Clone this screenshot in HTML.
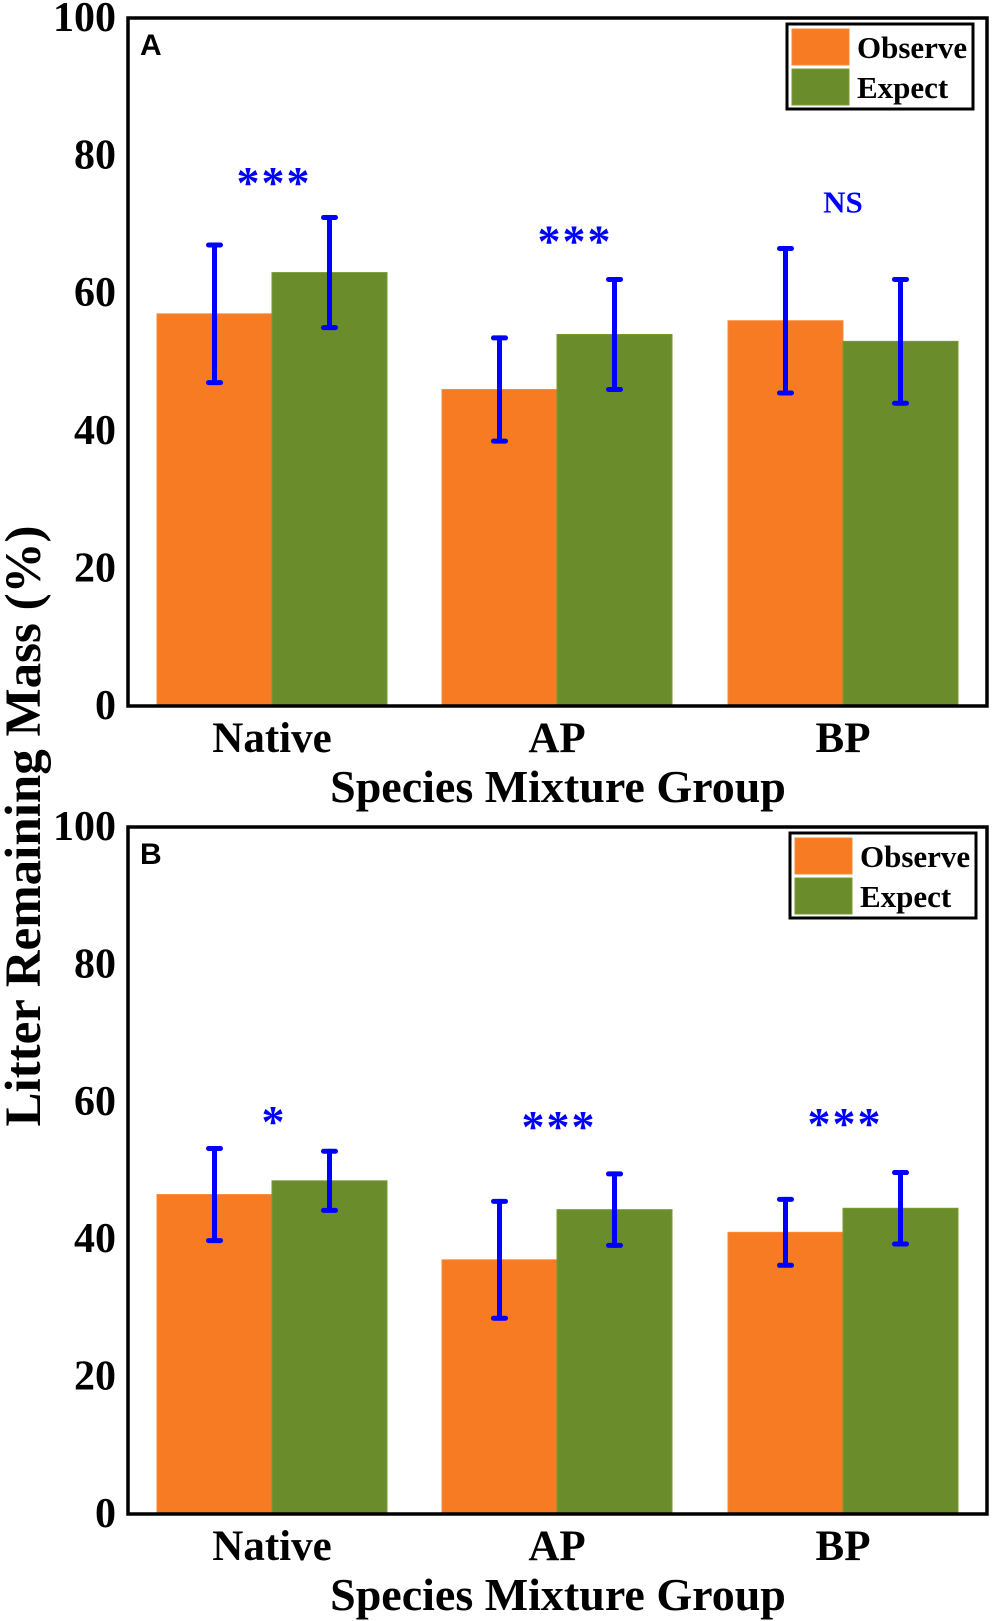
<!DOCTYPE html>
<html><head><meta charset="utf-8"><style>
html,body{margin:0;padding:0;background:#fff;}
svg{display:block;}
text{font-family:"Liberation Serif",serif;font-weight:bold;}
</style></head><body>
<svg id="chart" width="992" height="1621" viewBox="0 0 992 1621" xmlns="http://www.w3.org/2000/svg">
<text transform="translate(40,826) rotate(-90)" text-anchor="middle" font-size="51">Litter Remaining Mass (%)</text>
</svg>
<script>
const categories = ["Native", "AP", "BP"];
const seriesNames = ["Observe", "Expect"];
const tickValues = [0, 20, 40, 60, 80, 100];
const observeA = [57, 46, 56];
const expectA = [63, 54, 53];
const observeErrA = [10, 7.5, 10.5];
const expectErrA = [8, 8, 9];
const sigA = ["***", "***", "NS"];
const sigPosA = [77.5, 69, 73.5];
const observeB = [46.5, 37, 41];
const expectB = [48.5, 44.3, 44.5];
const observeErrB = [6.7, 8.5, 4.8];
const expectErrB = [4.3, 5.2, 5.2];
const sigB = ["*", "***", "***"];
const sigPosB = [58.5, 57.8, 58.2];

const NS = "http://www.w3.org/2000/svg";
const svg = document.getElementById("chart");
const colors = ["#f67b22", "#6a8c2a"];
const strokes = ["#f68a3a", "#7a9a30"];
function mk(tag, attrs, parent) {
  const e = document.createElementNS(NS, tag);
  for (const k in attrs) e.setAttribute(k, attrs[k]);
  (parent || svg).appendChild(e);
  return e;
}
function panel(cfg) {
  const g = mk("g", {});
  
  
  const L = 128, R = 987, T = cfg.top, B = cfg.bottom;
  const y = v => B - (v / 100) * (B - T);
  const groupStarts = [157, 442, 728];
  const bw = 115;
  const x = (i, s) => groupStarts[i] + s * bw;
  const sets = [[cfg.obs, cfg.obsErr], [cfg.exp, cfg.expErr]];
  sets.forEach((set, s) => {
    set[0].forEach((v, i) => {
      const r = mk("rect", {x: x(i, s), y: y(v), width: bw, height: y(0) - y(v), fill: colors[s], stroke: strokes[s], "stroke-width": 1}, g);
      
      
    });
  });
  sets.forEach((set, s) => {
    set[0].forEach((v, i) => {
      const cx = x(i, s) + bw / 2, e = set[1][i];
      const eg = mk("g", {stroke: "#0000ff", "stroke-width": 5, "stroke-linecap": "round"}, g);
      
      
      mk("line", {x1: cx, x2: cx, y1: y(v - e), y2: y(v + e)}, eg);
      mk("line", {x1: cx - 6, x2: cx + 6, y1: y(v - e), y2: y(v - e)}, eg);
      mk("line", {x1: cx - 6, x2: cx + 6, y1: y(v + e), y2: y(v + e)}, eg);
    });
  });
  cfg.sig.forEach((t, i) => {
    const isNS = t === "NS";
    const shift = (cfg.label === "A" && i === 1) ? 16 : 0;
    const tx = mk("text", {x: groupStarts[i] + bw + (isNS ? 0 : 2) + shift, y: y(cfg.sigPos[i]) + (isNS ? 12 : 25), "text-anchor": "middle", fill: "#0000ff", "font-size": isNS ? 31 : 46, "letter-spacing": isNS ? 0 : 2}, g);
    tx.textContent = t;
    
    
  });
  const fr = mk("rect", {x: L, y: T, width: R - L, height: B - T, fill: "none", stroke: "#000", "stroke-width": 3.5}, g);
  
  
  tickValues.forEach(v => {
    const t = mk("text", {x: 116, y: y(v) + 13, "text-anchor": "end", "font-size": 42}, g);
    t.textContent = v;
    
    
  });
  categories.forEach((c, i) => {
    const t = mk("text", {x: groupStarts[i] + bw, y: B + 46, "text-anchor": "middle", "font-size": 43}, g);
    t.textContent = c;
    
    
  });
  const xt = mk("text", {x: 558, y: B + 96, "text-anchor": "middle", "font-size": 46}, g);
  xt.textContent = "Species Mixture Group";
  
  
  const pl = mk("text", {x: 140, y: T + 37, "font-size": 30, style: "font-family:'Liberation Sans',sans-serif;font-weight:bold"}, g);
  pl.textContent = cfg.label;
  
  
  const lg = mk("g", {}, g);
  
  
  const lx = cfg.legX, ly = T + 6;
  mk("rect", {x: lx, y: ly, width: 186, height: 85, fill: "#fff", stroke: "#000", "stroke-width": 3}, lg);
  seriesNames.forEach((n, s) => {
    const e = mk("g", {}, lg);
    
    
    mk("rect", {x: lx + 5, y: ly + 5 + s * 40, width: 57, height: 36, fill: colors[s], stroke: strokes[s]}, e);
    const t = mk("text", {x: lx + 70, y: ly + 34 + s * 40, "font-size": 31}, e);
    t.textContent = n;
  });
}
panel({label: "A", top: 18, bottom: 706, obs: observeA, exp: expectA, obsErr: observeErrA, expErr: expectErrA, sig: sigA, sigPos: sigPosA, legX: 787});
panel({label: "B", top: 827, bottom: 1514, obs: observeB, exp: expectB, obsErr: observeErrB, expErr: expectErrB, sig: sigB, sigPos: sigPosB, legX: 790});
</script>
</body></html>
